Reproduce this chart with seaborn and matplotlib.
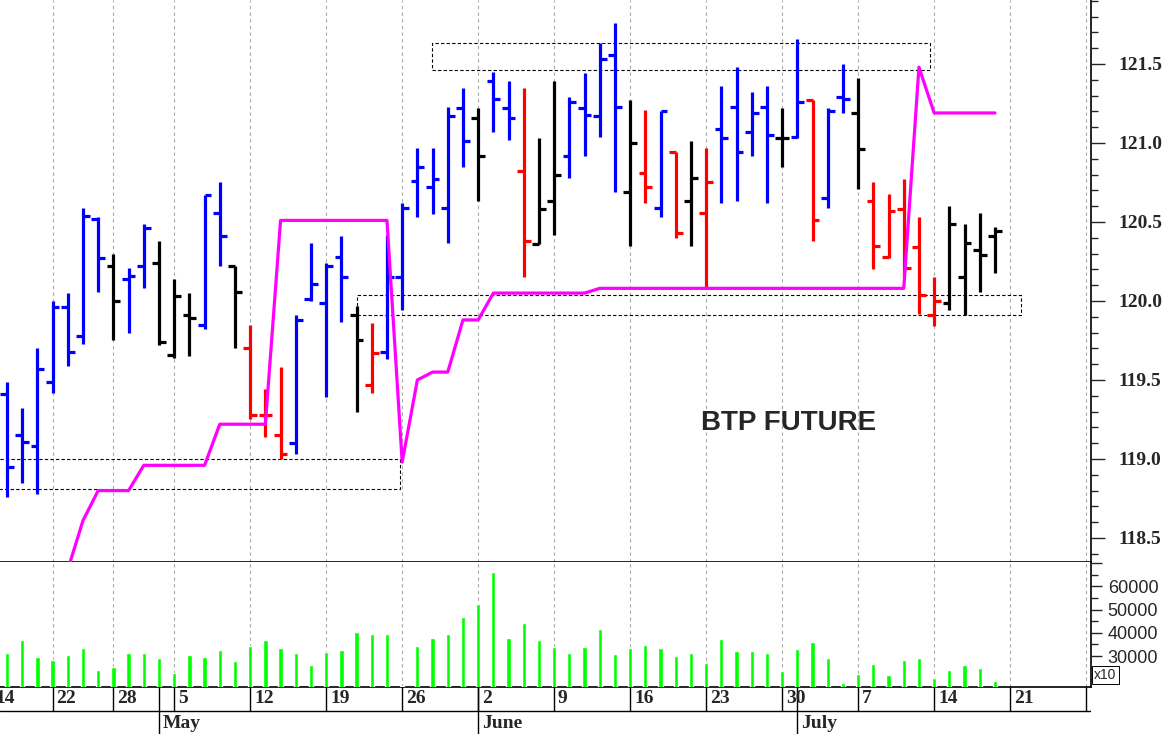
import numpy as np
import pandas as pd
import matplotlib
matplotlib.use("Agg")
import matplotlib.pyplot as plt
import matplotlib.transforms as mtrans
from matplotlib.patches import Rectangle
from matplotlib.ticker import MultipleLocator, FixedLocator
import seaborn as sns

# ---------------- data ----------------
highs = [119.49,119.32,119.70,120.00,120.05,120.59,120.53,120.30,120.21,120.49,
         120.38,120.14,120.05,120.67,120.75,120.22,119.85,119.44,119.58,119.91,
         120.37,120.24,120.41,119.97,119.86,120.42,120.62,120.97,120.97,121.23,
         121.35,121.22,121.45,121.39,121.35,121.03,121.39,121.29,121.44,121.63,
         121.76,121.27,121.21,121.20,120.94,121.01,120.97,121.36,121.48,121.32,
         121.36,121.22,121.66,121.27,121.22,121.50,121.41,120.75,120.68,120.77,
         120.53,120.15,120.60,120.49,120.56,120.47]
lows = [118.76,118.85,118.78,119.42,119.59,119.73,120.06,119.75,119.80,120.08,
        119.72,119.64,119.65,119.82,120.22,119.70,119.25,119.14,119.00,119.03,
        120.00,119.39,119.87,119.30,119.42,119.63,119.94,120.53,120.55,120.37,
        120.85,120.63,121.07,121.02,120.15,120.36,120.42,120.78,120.92,121.04,
        120.69,120.35,120.62,120.53,120.40,120.35,120.09,120.62,120.63,120.92,
        120.62,120.85,121.03,120.38,120.59,121.19,120.71,120.20,120.27,120.15,
        119.92,119.84,119.94,119.91,120.06,120.18]
opens = [119.41,119.15,119.08,119.49,119.96,119.78,120.52,120.22,120.14,120.22,
         120.24,119.66,119.91,119.85,120.56,120.22,119.70,119.28,119.15,119.10,
         120.01,119.99,120.28,119.91,119.47,119.68,120.15,120.76,120.72,120.59,
         121.22,121.16,121.39,121.22,120.82,120.36,120.63,120.92,121.22,121.17,
         121.56,120.69,120.81,120.59,120.94,120.63,120.56,121.09,121.23,121.07,
         121.23,121.03,121.04,121.27,120.65,121.29,121.19,120.63,120.28,120.58,
         120.34,119.91,119.99,120.15,120.32,120.41]
closes = [118.95,119.11,119.57,119.96,119.68,120.54,120.27,120.00,120.16,120.46,
          119.74,120.03,119.89,120.67,120.41,120.06,119.28,119.28,119.03,119.88,
          120.11,120.22,120.15,119.75,119.67,120.15,120.59,120.85,120.77,121.17,
          121.01,120.92,121.28,121.16,120.38,120.58,120.80,121.26,121.18,121.53,
          121.23,121.00,120.72,121.20,120.43,120.78,120.75,121.03,120.94,121.19,
          121.05,121.03,121.26,120.51,121.20,121.28,120.96,120.35,120.57,120.21,
          120.04,120.00,120.49,120.37,120.29,120.44]
bar_colors = (["blue"] * 7 + ["black"] + ["blue"] * 2 + ["black"] * 3 + ["blue"] * 2
              + ["black"] + ["red"] * 3 + ["blue"] * 4 + ["black", "red"] + ["blue"] * 6
              + ["black", "blue", "blue", "red", "black", "black"] + ["blue"] * 4
              + ["black", "red", "blue", "red", "black", "red"] + ["blue"] * 4
              + ["black", "blue", "red", "blue", "blue", "black"] + ["red"] * 5
              + ["black"] * 4)
volumes = [31300,36900,29600,28300,30400,33400,24000,25300,31400,31400,
           29000,22700,30400,29600,32600,27900,34300,36900,33400,31400,
           26100,31900,32600,40300,39400,39400,17200,34300,37700,39400,
           46700,52300,66000,37700,44200,36900,33900,31420,33730,41460,
           30730,33300,34720,33300,30130,31420,27130,37170,32150,32150,
           31420,23560,32870,35870,29000,18540,22270,26430,21700,28280,
           29000,20430,23990,26140,24720,19280]
stop_line = ([np.nan] * 4 + [118.30, 118.61, 118.80, 118.80, 118.80]
             + [118.96] * 5 + [119.22] * 4 + [120.51] * 8
             + [118.98, 119.50, 119.55, 119.55, 119.88, 119.88]
             + [120.05] * 7 + [120.08] * 21 + [121.48] + [121.19] * 5)
week_idx = [-1, 3, 7, 11, 16, 21, 26, 31, 36, 41, 46, 51, 56, 61, 66, 71]
week_labels = ["14", "22", "28", "5", "12", "19", "26", "2", "9", "16", "23",
               "30", "7", "14", "21", "28"]
month_idx = [10, 31, 52]
month_labels = ["May", "June", "July"]
# zones: (x_start, x_end, y_low, y_high)
zones = [(-1.0, 25.85, 118.81, 119.00),
         (23.0, 66.7, 119.91, 120.04),
         (27.96, 60.7, 121.46, 121.63)]
price_ticks = [118.5, 119.0, 119.5, 120.0, 120.5, 121.0, 121.5]
vol_ticks = [30000, 40000, 50000, 60000]

# ---------------- figure ----------------
sns.set_style("white")
W, H = 1162, 734
fig = plt.figure(figsize=(W / 100, H / 100), dpi=100)
right = 1091 / W
ax = fig.add_axes([0, 1 - 562 / H, right, 562 / H])
axv = fig.add_axes([0, 1 - 687 / H, right, 125 / H], sharex=ax)
axd = fig.add_axes([0, 0, right, 47 / H], sharex=ax)

n = len(highs)
idx = np.arange(n)
df = pd.DataFrame({"i": idx, "stop": stop_line, "vol": volumes})
xl = (-0.46, 71.32)

# price bars
ax.vlines(idx, lows, highs, colors=bar_colors, lw=2.3, zorder=3)
ax.hlines(opens, idx - 0.45, idx, colors=bar_colors, lw=2.3, zorder=3)
ax.hlines(closes, idx, idx + 0.45, colors=bar_colors, lw=2.3, zorder=3)
sns.lineplot(data=df, x="i", y="stop", ax=ax, color="#ff00ff", lw=2.3, zorder=4)
for x0, x1, y0, y1 in zones:
    ax.add_patch(Rectangle((x0, y0), x1 - x0, y1 - y0, fill=False, ec="black",
                           lw=0.8, ls=(0, (3, 2)), zorder=2))
ax.text(51.4, 119.23, "BTP FUTURE", fontsize=20, fontweight="bold",
        family="Liberation Sans", ha="center", va="center")

ax.set_xlim(*xl)
ax.set_ylim(118.348, 121.905)
for a in (ax, axv):
    for w in week_idx:
        a.axvline(w, color="#aaaaaa", lw=0.8, ls=(0, (3, 3)), zorder=0)
    a.set_xlabel("")
    a.set_ylabel("")
    a.tick_params(axis="x", bottom=False, labelbottom=False)
    for s in ("left", "top"):
        a.spines[s].set_visible(False)
    a.spines["right"].set_color("black")
    a.spines["bottom"].set_color("black")
    a.spines["right"].set_linewidth(1.2)
    a.spines["bottom"].set_linewidth(1.2)
    a.yaxis.tick_right()

ax.yaxis.set_major_locator(FixedLocator(price_ticks))
ax.yaxis.set_minor_locator(MultipleLocator(0.1))
ax.tick_params(axis="y", which="major", right=True, length=10, width=1, direction="out", pad=10)
ax.tick_params(axis="y", which="minor", right=True, length=5, width=1, direction="out")
ax.set_yticklabels([f"{t:.1f}" for t in price_ticks], family="Liberation Serif",
                   fontweight="bold", fontsize=14)

# volume
axv.bar(idx, volumes, width=0.28, color="#00ff00", zorder=3)
axv.set_ylim(16700, 70500)
axv.yaxis.set_major_locator(FixedLocator(vol_ticks + [70000]))
axv.yaxis.set_minor_locator(MultipleLocator(5000))
axv.tick_params(axis="y", which="major", right=True, length=8, width=1, direction="out", pad=4)
axv.tick_params(axis="y", which="minor", right=True, length=5, width=1, direction="out")
axv.set_yticklabels([f"{t}" for t in vol_ticks] + [""], family="Liberation Sans", fontsize=13)
axv.text(1.003, 0.04, "x10", transform=axv.transAxes, fontsize=10, family="Liberation Sans",
         ha="left", va="bottom", clip_on=False,
         bbox=dict(boxstyle="square,pad=0.15", fc="white", ec="black", lw=0.7))

# date label rows
axd.set_ylim(0, 2)
axd.axis("off")
axd.set_xlim(*xl)
axd.axhline(1, color="black", lw=1)
trans = mtrans.blended_transform_factory(axd.transData, axd.transAxes)
for w, lab in zip(week_idx, week_labels):
    axd.plot([w, w], [1, 2], color="black", lw=1, clip_on=True)
    axd.text(w + 0.25, 1.5, lab, fontsize=14, fontweight="bold", family="Liberation Serif",
             ha="left", va="center", clip_on=True)
for m, lab in zip(month_idx, month_labels):
    axd.plot([m, m], [0, 2], color="black", lw=1, clip_on=True)
    axd.text(m + 0.25, 0.45, lab, fontsize=14, fontweight="bold", family="Liberation Serif",
             ha="left", va="center", clip_on=True)

fig.savefig("out.png", dpi=100)
